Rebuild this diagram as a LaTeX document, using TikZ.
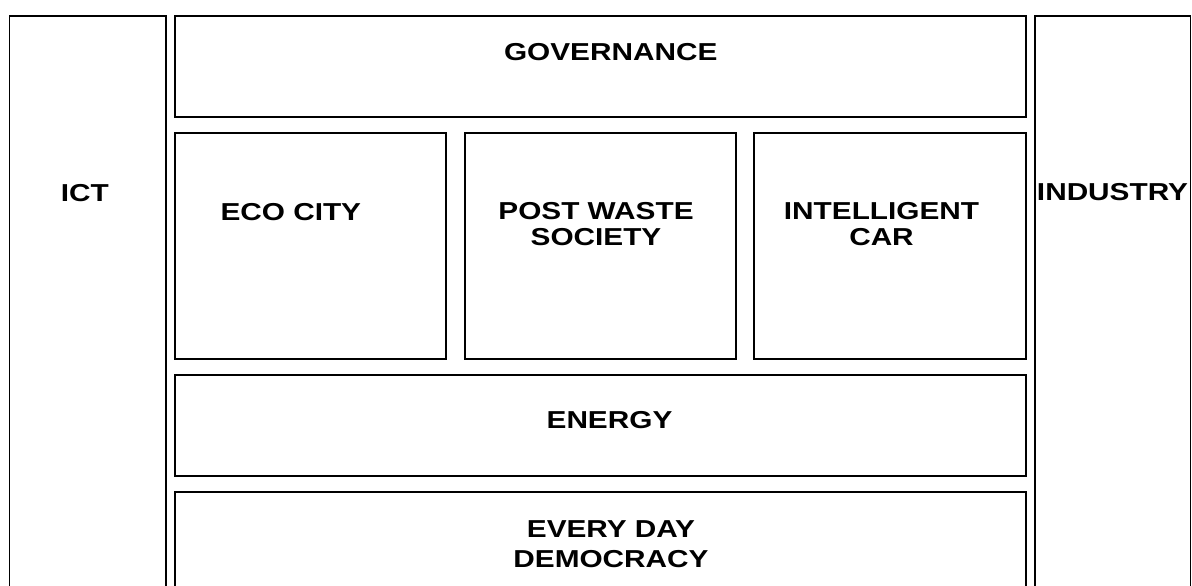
\documentclass[tikz,border=0pt]{standalone}
\usepackage{fontspec}
\newfontfamily\lblfont[FakeStretch=1.215]{Liberation Sans}
\begin{document}
\begin{tikzpicture}[x=1pt,y=-1pt,
  boxline/.style={draw=black,line width=1.5pt},
  lbl/.style={inner sep=0pt,anchor=center,align=center,font=\lblfont\bfseries\fontsize{24.5}{26}\selectfont}]
\useasboundingbox (0,0) rectangle (1192,586);
\clip (0,0) rectangle (1192,586);
% side columns (open at the bottom)
\draw[boxline] (9.5,600) -- (9.5,16) -- (166,16) -- (166,600);
\draw[boxline] (1035,600) -- (1035,16) -- (1190.3,16) -- (1190.3,600);
% governance
\draw[boxline] (175,16) rectangle (1026,117);
% middle row
\draw[boxline] (175,133) rectangle (446,359);
\draw[boxline] (465,133) rectangle (736,359);
\draw[boxline] (754,133) rectangle (1026,359);
% energy
\draw[boxline] (175,375) rectangle (1026,476);
% every day democracy (open at the bottom)
\draw[boxline] (175,600) -- (175,492) -- (1026,492) -- (1026,600);
% labels
\node[lbl] (ict) at (84.8,193) {ICT};
\node[lbl] (gov) at (610.7,52.5) {GOVERNANCE};
\node[lbl] (eco) at (290.8,212.5) {ECO CITY};
\node[lbl] (pws) at (596,223.8) {POST WASTE\\SOCIETY};
\node[lbl] (car) at (881.5,223.8) {INTELLIGENT\\CAR};
\node[lbl] (ind) at (1112.5,192.3) {INDUSTRY};
\node[lbl] (ene) at (609.5,420) {ENERGY};
\node[lbl,font=\lblfont\bfseries\fontsize{24.5}{30}\selectfont] (edd) at (611,543.7) {EVERY DAY\\DEMOCRACY};
\end{tikzpicture}
\end{document}
